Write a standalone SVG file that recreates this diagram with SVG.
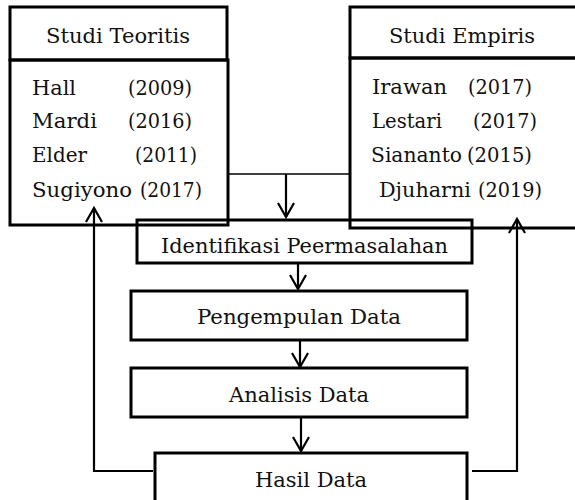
<svg xmlns="http://www.w3.org/2000/svg" width="575" height="500" viewBox="0 0 575 500">
<defs>
<style>
.box{fill:none;stroke:#000;stroke-width:3}
.t{font-family:"DejaVu Serif","Liberation Serif",serif;font-size:21px;fill:#111}
.c{fill:none;stroke:#000;stroke-width:2.2}
.thin{fill:none;stroke:#000;stroke-width:1.3}
</style>
<marker id="ah" markerUnits="userSpaceOnUse" markerWidth="30" markerHeight="30" viewBox="-20 -15 30 30" refX="0" refY="0" orient="auto" overflow="visible">
<path d="M-14,-8 L0,0 L-14,8" fill="none" stroke="#000" stroke-width="2.2"/>
</marker>
</defs>
<rect width="575" height="500" fill="#fff"/>
<g id="studi-teoritis">
<rect class="box" x="10" y="7" width="217" height="53"/>
<rect class="box" x="10" y="60" width="218" height="165"/>
<text class="t" x="46" y="43" textLength="144" lengthAdjust="spacingAndGlyphs">Studi Teoritis</text>
<text class="t" x="32" y="95" textLength="44" lengthAdjust="spacingAndGlyphs">Hall</text>
<text class="t" x="128" y="95" textLength="64" lengthAdjust="spacingAndGlyphs">(2009)</text>
<text class="t" x="32" y="128" textLength="65" lengthAdjust="spacingAndGlyphs">Mardi</text>
<text class="t" x="128" y="128" textLength="64" lengthAdjust="spacingAndGlyphs">(2016)</text>
<text class="t" x="32" y="162" textLength="55" lengthAdjust="spacingAndGlyphs">Elder</text>
<text class="t" x="135" y="162" textLength="62" lengthAdjust="spacingAndGlyphs">(2011)</text>
<text class="t" x="32" y="197" textLength="100" lengthAdjust="spacingAndGlyphs">Sugiyono</text>
<text class="t" x="140" y="197" textLength="62" lengthAdjust="spacingAndGlyphs">(2017)</text>
</g>
<g id="studi-empiris">
<rect class="box" x="350" y="7" width="240" height="51"/>
<rect class="box" x="350" y="58" width="240" height="170"/>
<text class="t" x="389" y="43" textLength="146" lengthAdjust="spacingAndGlyphs">Studi Empiris</text>
<text class="t" x="372" y="94" textLength="75" lengthAdjust="spacingAndGlyphs">Irawan</text>
<text class="t" x="468" y="94" textLength="64" lengthAdjust="spacingAndGlyphs">(2017)</text>
<text class="t" x="372" y="128" textLength="70" lengthAdjust="spacingAndGlyphs">Lestari</text>
<text class="t" x="473" y="128" textLength="64" lengthAdjust="spacingAndGlyphs">(2017)</text>
<text class="t" x="371" y="162" textLength="91" lengthAdjust="spacingAndGlyphs">Siananto</text>
<text class="t" x="467" y="162" textLength="65" lengthAdjust="spacingAndGlyphs">(2015)</text>
<text class="t" x="379" y="197" textLength="92" lengthAdjust="spacingAndGlyphs">Djuharni</text>
<text class="t" x="478" y="197" textLength="64" lengthAdjust="spacingAndGlyphs">(2019)</text>
</g>
<g id="identifikasi">
<rect class="box" x="137" y="220" width="335" height="43"/>
<text class="t" x="161" y="253" textLength="287" lengthAdjust="spacingAndGlyphs">Identifikasi Peermasalahan</text>
</g>
<g id="pengempulan">
<rect class="box" x="131" y="291" width="336" height="49"/>
<text class="t" x="197" y="324" textLength="204" lengthAdjust="spacingAndGlyphs">Pengempulan Data</text>
</g>
<g id="analisis">
<rect class="box" x="131" y="368" width="336" height="49"/>
<text class="t" x="229" y="402" textLength="140" lengthAdjust="spacingAndGlyphs">Analisis Data</text>
</g>
<g id="hasil">
<rect class="box" x="155" y="453" width="312" height="60"/>
<text class="t" x="255" y="487" textLength="112" lengthAdjust="spacingAndGlyphs">Hasil Data</text>
</g>
<g id="connectors">
<path class="thin" d="M228,174 H350"/>
<path class="c" d="M286,174 V217" marker-end="url(#ah)"/>
<path class="c" d="M298,263 V289" marker-end="url(#ah)"/>
<path class="c" d="M300,340 V367" marker-end="url(#ah)"/>
<path class="c" d="M301,417 V451" marker-end="url(#ah)"/>
<path class="c" d="M153,471 H94 V208" marker-end="url(#ah)"/>
<path class="c" d="M472,471 H517 V219" marker-end="url(#ah)"/>
</g>
</svg>
